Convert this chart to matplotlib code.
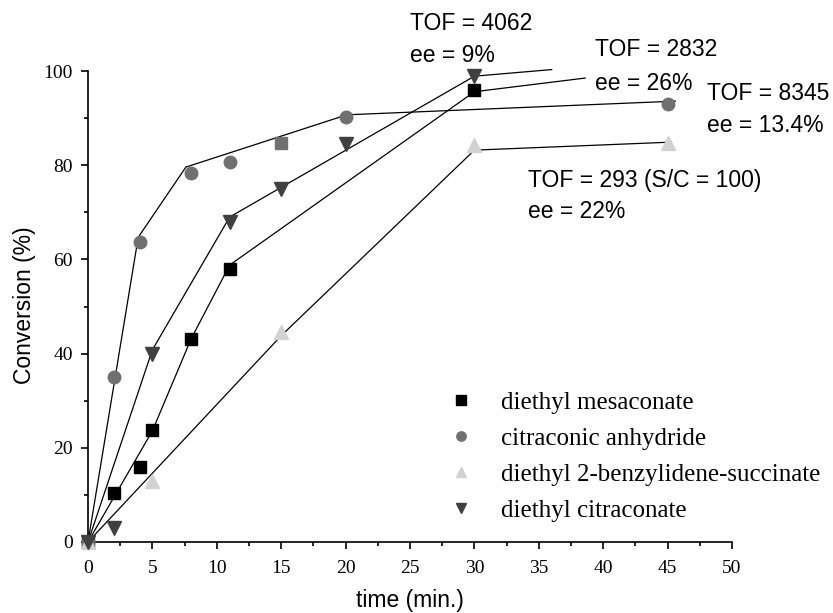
import matplotlib
matplotlib.use('Agg')
import matplotlib.pyplot as plt

# ---------------------------
# measured points
# ---------------------------
mesa_t = [0, 2, 4, 5, 8, 11, 30]
mesa_c = [0, 10.5, 16, 23.7, 43, 58, 96]

anhy_t = [0, 2, 4, 8, 11, 20, 45]
anhy_c = [0, 35, 63.8, 78.3, 80.6, 90.2, 93]
odd_t = [15]          # grey square at 15 min
odd_c = [84.7]

benz_t = [0, 5, 15, 30, 45]
benz_c = [0, 13, 44.5, 84.3, 84.8]

citr_t = [0, 2, 5, 11, 15, 20, 30]
citr_c = [0, 3, 40, 68, 75, 84.5, 99]

# ---------------------------
# guide lines (drawn by hand in the original)
# ---------------------------
fit_anhy_t = [0, 3.9, 7.6, 20.1, 45.6]
fit_anhy_c = [0, 64.7, 79.6, 90.7, 93.6]
fit_citr_t = [0, 5, 11, 30, 36]
fit_citr_c = [0, 40.8, 69, 98.9, 100.3]
fit_mesa_t = [0, 5, 8, 11, 30, 38.6]
fit_mesa_c = [0, 23.6, 43.1, 58.8, 95.6, 98.5]
fit_benz_t = [0, 15, 30, 45.3]
fit_benz_c = [0, 43.8, 83.2, 84.9]

labels = ["diethyl mesaconate", "citraconic anhydride",
          "diethyl 2-benzylidene-succinate", "diethyl citraconate"]

notes = [
    (410, 24, "TOF = 4062"), (410, 55, "ee = 9%"),
    (595, 50, "TOF = 2832"), (595, 83, "ee = 26%"),
    (707, 93, "TOF = 8345"), (707, 125, "ee = 13.4%"),
    (528, 180, "TOF = 293 (S/C = 100)"), (528, 212, "ee = 22%"),
]

W, H = 833, 613
fig = plt.figure(figsize=(W / 100, H / 100), dpi=100)
ax = fig.add_axes([88 / W, 1 - 542 / H, (732 - 88) / W, (542 - 71) / H])

for s in ["top", "right"]:
    ax.spines[s].set_visible(False)
for s in ["left", "bottom"]:
    ax.spines[s].set_linewidth(1.2)

for tx, ty in [(fit_anhy_t, fit_anhy_c), (fit_citr_t, fit_citr_c),
               (fit_mesa_t, fit_mesa_c), (fit_benz_t, fit_benz_c)]:
    ax.plot(tx, ty, color="black", lw=0.9, clip_on=False, zorder=2)

ms = 9
ax.plot(mesa_t, mesa_c, "s", color="black", ms=ms, ls="none",
        label=labels[0], clip_on=False, zorder=3)
ax.plot(anhy_t, anhy_c, "o", color="#707070", ms=ms, ls="none",
        label=labels[1], clip_on=False, zorder=3)
ax.plot(benz_t, benz_c, "^", color="#d2d2d2", ms=ms + 1, ls="none",
        label=labels[2], clip_on=False, zorder=3)
ax.plot(citr_t, citr_c, "v", color="#404040", ms=ms + 1, ls="none",
        label=labels[3], clip_on=False, zorder=3)
ax.plot(odd_t, odd_c, "s", color="#707070", ms=ms, ls="none",
        clip_on=False, zorder=3)

ax.set_xlim(0, 50)
ax.set_ylim(0, 100)
ax.set_xticks(range(0, 51, 5))
ax.set_xticks([x + 2.5 for x in range(0, 50, 5)], minor=True)
ax.set_yticks(range(0, 101, 20))
ax.set_yticks(range(10, 100, 20), minor=True)
ax.tick_params(which="major", direction="out", length=5, width=1.2,
               labelsize=14, pad=6)
ax.tick_params(axis="x", which="major", pad=8)
ax.tick_params(which="minor", direction="out", length=3, width=1.2)
for lab in ax.get_xticklabels() + ax.get_yticklabels():
    lab.set_family("Liberation Serif")

fig.text(410 / W, 1 - 600 / H, "time (min.)", ha="center", va="center",
         fontsize=16.5, family="Liberation Sans")
fig.text(25 / W, 1 - 305 / H, "Conversion (%)", ha="center", va="center",
         rotation=90, fontsize=16.5, family="Liberation Sans")

for x, y, t in notes:
    fig.text(x / W, 1 - y / H, t, ha="left", va="center",
             fontsize=16.5, family="Liberation Sans")

ax.legend(loc="center left", bbox_to_anchor=(0.541, 0.181), frameon=False,
          prop={"family": "Liberation Serif", "size": 18}, borderpad=0,
          handlelength=1, handletextpad=1.1, labelspacing=0.54,
          markerscale=0.75)

fig.savefig("out.png", dpi=100)
